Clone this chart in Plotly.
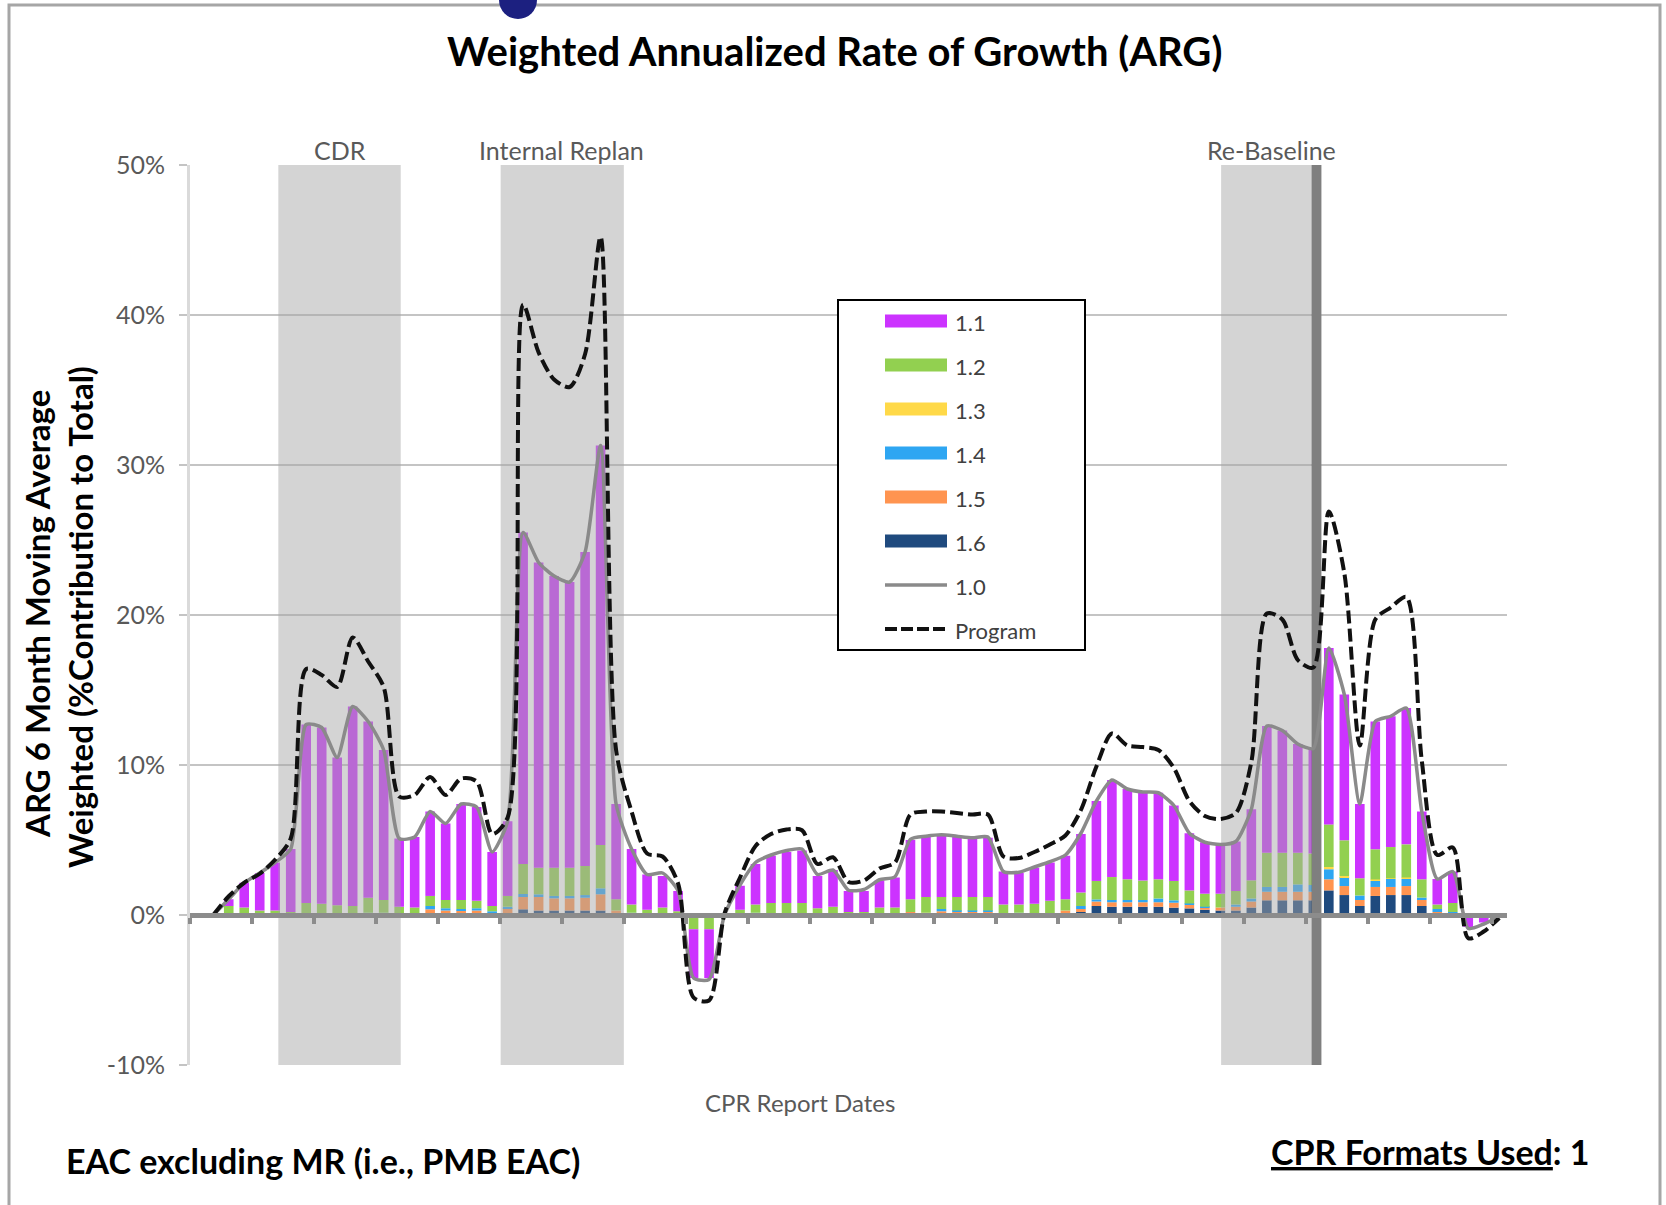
import plotly.graph_objects as go

# canvas / plot-area geometry (pixels)
W, H = 1666, 1205
ML, MR, MT, MB = 190, 159, 165, 140
PW, PH = W - ML - MR, H - MT - MB


def px(x):
    return (x - ML) / PW


def py(y):
    return (H - MB - y) / PH


FONT = "Lato"
GREY_TXT = "#595959"

# one category per CPR report (85 reports)
X = list(range(85))

# stacked contributions (% of total)
S11 = [0, 0, 0.45, 1.65, 2.5, 3.2, 4.2, 11.9, 11.75, 9.85, 13.3, 11.75, 10.0, 4.55, 4.7, 5.63, 5.1, 6.4, 6.25, 3.6,
       4.98, 22.1, 20.35, 19.45, 19.05, 20.93, 26.63, 6.35, 3.7, 2.35, 2.1, 1.35, -3.25, -3.25, 0, 1.6, 2.7, 3.15, 3.4, 3.5,
       2.15, 2.45, 1.4, 1.4, 1.8, 2.0, 3.95, 4.0, 4.1, 4.0, 3.9, 3.95, 2.2, 2.1, 2.4, 2.55, 2.9, 3.9, 5.33, 6.47,
       6.02, 5.9, 5.77, 5.03, 3.81, 3.43, 3.28, 3.3, 4.74, 8.45, 8.15, 7.25, 7.0, 11.76, 9.72, 4.95, 8.52, 8.72, 9.09, 4.52,
       1.7, 2.1, -0.8, -0.5, -0.1]
S12 = [0, 0, 0.6, 0.5, 0.3, 0.3, 0.2, 0.7, 0.7, 0.55, 0.6, 1.0, 0.85, 0.55, 0.5, 0.67, 0.55, 0.6, 0.5, 0.35,
       0.72, 2.0, 1.77, 1.88, 1.88, 1.94, 2.89, 0.75, 0.55, 0.35, 0.5, 0.25, -0.75, -0.75, 0, 0.25, 0.55, 0.8, 0.8, 0.8,
       0.45, 0.55, 0.2, 0.2, 0.5, 0.5, 0.85, 1.05, 0.8, 0.9, 0.9, 0.9, 0.7, 0.55, 0.75, 0.85, 0.75, 0.9, 1.23, 1.53,
       1.38, 1.3, 1.28, 1.29, 0.87, 0.87, 0.92, 0.9, 1.21, 2.28, 2.28, 2.11, 2.1, 2.84, 2.38, 1.15, 2.01, 2.08, 2.21, 1.22,
       0.3, 0.6, 0, 0, 0]
S13 = [0] * 73 + [0.15, 0.07, 0, 0.1, 0.05, 0.1, 0, 0, 0, 0, 0, 0]
S14 = [0, 0, 0, 0, 0, 0, 0, 0, 0, 0.1, 0, 0.15, 0.15, 0, 0, 0.22, 0.15, 0.1, 0.15, 0.25,
       0.1, 0.2, 0.18, 0.16, 0.16, 0.18, 0.4, 0, 0.15, 0, 0, 0, -0.2, -0.2, 0, 0.1, 0.15, 0, 0, 0,
       0, 0, 0, 0, 0, 0, 0, 0, 0.15, 0.1, 0.1, 0.1, 0, 0.15, 0, 0, 0, 0.2, 0.14, 0.15,
       0.15, 0.15, 0.25, 0.16, 0.1, 0.05, 0, 0.15, 0.2, 0.32, 0.32, 0.49, 0.45, 0.67, 0.6, 0.3, 0.4, 0.53, 0.47, 0.16,
       0.2, 0.2, 0, 0, 0]
S15 = [0, 0, 0, 0, 0, 0, 0, 0.1, 0.05, 0, 0, 0, 0, 0, 0, 0.38, 0.3, 0.3, 0.3, 0,
       0.45, 0.82, 0.9, 0.81, 0.81, 0.85, 1.08, 0.3, 0, 0, 0, 0, 0, 0, 0, 0, 0, 0, 0, 0,
       0, 0, 0, 0, 0, 0, 0.2, 0.15, 0.25, 0.2, 0.2, 0.2, 0, 0, 0, 0.1, 0.3, 0.2, 0.3, 0.3,
       0.3, 0.3, 0.3, 0.33, 0.23, 0.15, 0.2, 0.25, 0.4, 0.57, 0.57, 0.57, 0.57, 0.74, 0.6, 0.4, 0.6, 0.54, 0.6, 0.4,
       0.2, 0, 0, 0, 0]
S16 = [0] * 21 + [0.38, 0.3, 0.3, 0.3, 0.3, 0.3] + [0] * 30 + \
      [0.2, 0.6, 0.55, 0.55, 0.55, 0.55, 0.49, 0.44, 0.35, 0.3, 0.3, 0.5, 0.98, 0.98, 0.98, 0.98, 1.64, 1.33, 0.6,
       1.27, 1.33, 1.33, 0.6, 0, 0, 0, 0, 0]

# line series
L10 = [None, 0, 1.05, 2.15, 2.8, 3.5, 4.4, 12.7, 12.5, 10.5, 13.9, 12.9, 11.0, 5.1, 5.2, 6.9, 6.1, 7.4, 7.2, 4.2,
       6.25, 25.5, 23.5, 22.6, 22.2, 24.2, 31.3, 7.4, 4.4, 2.7, 2.8, 1.6, -4.2, -4.3, 0.0, 2.0, 3.5, 4.0, 4.3, 4.4,
       2.7, 3.0, 1.65, 1.7, 2.35, 2.55, 5.05, 5.25, 5.35, 5.25, 5.15, 5.2, 2.9, 2.85, 3.2, 3.55, 4.0, 5.45, 7.6, 9.0,
       8.4, 8.2, 8.15, 7.3, 5.45, 4.85, 4.7, 4.9, 7.05, 12.6, 12.3, 11.4, 11.1, 17.8, 14.7, 7.4, 12.9, 13.25, 13.8, 6.9,
       2.4, 2.9, -0.9, -0.6, -0.1]
PROGRAM = [None, 0, 1.25, 2.15, 2.75, 3.7, 5.1, 16.4, 16.0, 15.2, 18.5, 16.9, 15.2, 7.9, 8.0, 9.2, 8.0, 9.1, 8.9, 5.4,
           6.5, 40.7, 37.5, 35.7, 35.2, 37.4, 45.2, 11.0, 6.9, 4.1, 3.9, 2.1, -5.5, -5.7, 0.1, 2.5, 4.6, 5.4, 5.7, 5.65,
           3.4, 3.85, 2.2, 2.3, 3.1, 3.5, 6.7, 6.9, 6.9, 6.8, 6.7, 6.7, 3.9, 3.8, 4.2, 4.7, 5.3, 7.0, 9.9, 12.1,
           11.3, 11.2, 11.0, 9.8, 7.6, 6.6, 6.4, 6.8, 10.2, 20.1, 19.7, 17.0, 16.5, 26.9, 22.8, 11.3, 19.7, 20.5, 21.2, 10.3,
           4.0, 4.5, -1.55, -1.1, -0.2]

# shaded phases: (label, start, end, label centre) in category units
PHASES = [("CDR", 5.2, 13.1, 9.15), ("Internal Replan", 19.55, 27.5, 23.5), ("Re-Baseline", 66.05, 71.85, 69.3)]
REBASE_X = 72.2
Y_MIN, Y_MAX = -10, 50
Y_TICKS = [-10, 0, 10, 20, 30, 40, 50]
Y_TICKTEXT = ["-10%", "0%", "10%", "20%", "30%", "40%", "50%"]

BAR_SERIES = [("1.6", S16, "#1F4A7E"), ("1.5", S15, "#FF9450"), ("1.4", S14, "#2EA6F2"),
              ("1.3", S13, "#FFD948"), ("1.2", S12, "#92D050"), ("1.1", S11, "#CC33FF")]

fig = go.Figure()
for name, vals, color in BAR_SERIES:
    fig.add_trace(go.Bar(x=X, y=vals, name=name, marker=dict(color=color, line=dict(width=0)),
                         width=0.62, showlegend=False))

for label, x0, x1, _ in PHASES:
    fig.add_trace(go.Scatter(x=[x0, x1, x1, x0, x0], y=[Y_MIN, Y_MIN, Y_MAX, Y_MAX, Y_MIN], mode="lines",
                             fill="toself", fillcolor="rgba(165,165,165,0.48)", line=dict(width=0),
                             hoverinfo="skip", showlegend=False))
fig.add_trace(go.Scatter(x=[REBASE_X, REBASE_X], y=[Y_MIN, Y_MAX], mode="lines",
                         line=dict(color="#7F7F7F", width=10), hoverinfo="skip", showlegend=False))

fig.add_trace(go.Scatter(x=X, y=L10, name="1.0", mode="lines",
                         line=dict(color="#8A8A8A", width=3.5, shape="spline", smoothing=0.6), showlegend=False))
fig.add_trace(go.Scatter(x=X, y=PROGRAM, name="Program", mode="lines",
                         line=dict(color="#111111", width=4, dash="13px,5px", shape="spline", smoothing=0.8),
                         showlegend=False))

fig.update_layout(
    width=W, height=H, autosize=False,
    margin=dict(l=ML, r=MR, t=MT, b=MB, pad=0),
    paper_bgcolor="white", plot_bgcolor="white",
    barmode="relative",
    font=dict(family=FONT, color=GREY_TXT),
)
fig.update_xaxes(range=[-0.5, 84.5], showgrid=False, zeroline=False, showline=True, linecolor="#8C8C8C",
                 linewidth=5, anchor="free", position=(0 - Y_MIN) / (Y_MAX - Y_MIN),
                 tickvals=[-0.5 + 4 * k for k in range(22)], ticks="outside", ticklen=6, tickwidth=4,
                 tickcolor="#8C8C8C", showticklabels=False)
fig.update_yaxes(range=[Y_MIN, Y_MAX], tickvals=Y_TICKS, ticktext=Y_TICKTEXT, showgrid=True, gridcolor="#C4C4C4",
                 gridwidth=2, zeroline=False, showline=True, linecolor="#DADADA", linewidth=3, ticks="outside",
                 ticklen=8, tickwidth=2, tickcolor="#C4C4C4", tickfont=dict(family=FONT, size=25, color=GREY_TXT),
                 ticklabelstandoff=9)

shapes = []
ann = []

# outer frame and the dot on top
shapes.append(dict(type="rect", xref="paper", yref="paper", x0=px(9), x1=px(1660), y0=py(1240), y1=py(5),
                   line=dict(color="#A6A6A6", width=3), layer="above"))
shapes.append(dict(type="circle", xref="paper", yref="paper", x0=px(499), x1=px(537), y0=py(19), y1=py(-19),
                   fillcolor="#1C2080", line=dict(width=0), layer="above"))

# phase labels
for label, x0, x1, xc in PHASES:
    ann.append(dict(x=xc, y=py(150), xref="x", yref="paper", text=label, showarrow=False,
                    font=dict(family=FONT, size=25, color=GREY_TXT), xanchor="center", yanchor="middle"))

# legend
shapes.append(dict(type="rect", xref="paper", yref="paper", x0=px(838), x1=px(1085), y0=py(650), y1=py(300),
                   line=dict(color="black", width=2), fillcolor="white", layer="above"))
legend_items = [(name, color) for name, _, color in BAR_SERIES[::-1]] + [("1.0", "#8A8A8A"), ("Program", "#111111")]
for k, (name, color) in enumerate(legend_items):
    yc = 321 + 44 * k
    if name == "1.0":
        shapes.append(dict(type="line", xref="paper", yref="paper", x0=px(885), x1=px(947), y0=py(yc), y1=py(yc),
                           line=dict(color=color, width=3.5), layer="above"))
    elif name == "Program":
        shapes.append(dict(type="line", xref="paper", yref="paper", x0=px(885), x1=px(947), y0=py(yc), y1=py(yc),
                           line=dict(color=color, width=4, dash="12px,4px"), layer="above"))
    else:
        shapes.append(dict(type="rect", xref="paper", yref="paper", x0=px(885), x1=px(947), y0=py(yc + 6.5),
                           y1=py(yc - 6.5), fillcolor=color, line=dict(width=0), layer="above"))
    ann.append(dict(x=px(953), y=py(yc + 1), xref="paper", yref="paper", text=name, showarrow=False,
                    font=dict(family=FONT, size=22, color="#404040"), xanchor="left", yanchor="middle"))

# titles and notes
ann.append(dict(x=px(834), y=py(51), xref="paper", yref="paper", text="<b>Weighted Annualized Rate of Growth (ARG)</b>",
                showarrow=False, font=dict(family=FONT, size=40, color="black"), xanchor="center", yanchor="middle"))
ann.append(dict(x=px(37), y=py(614), xref="paper", yref="paper", text="<b>ARG 6 Month Moving Average</b>",
                showarrow=False, textangle=-90, font=dict(family=FONT, size=33, color="black"),
                xanchor="center", yanchor="middle"))
ann.append(dict(x=px(80), y=py(617), xref="paper", yref="paper", text="<b>Weighted (%Contribution to Total)</b>",
                showarrow=False, textangle=-90, font=dict(family=FONT, size=33, color="black"),
                xanchor="center", yanchor="middle"))
ann.append(dict(x=px(800), y=py(1102), xref="paper", yref="paper", text="CPR Report Dates", showarrow=False,
                font=dict(family=FONT, size=24, color=GREY_TXT), xanchor="center", yanchor="middle"))
ann.append(dict(x=px(64), y=py(1160), xref="paper", yref="paper", text="<b>EAC excluding MR (i.e., PMB EAC)</b>",
                showarrow=False, font=dict(family=FONT, size=34, color="black"), xanchor="left", yanchor="middle"))
ann.append(dict(x=px(1592), y=py(1151), xref="paper", yref="paper",
                text="<b><span style='text-decoration:underline'>CPR Formats Used</span>: 1</b>",
                showarrow=False, font=dict(family=FONT, size=34, color="black"), xanchor="right", yanchor="middle"))

fig.update_layout(shapes=shapes, annotations=ann)

fig.write_html("out.html", config={"displayModeBar": False},
               post_script="document.body.style.margin='0';document.body.style.overflow='hidden';")
